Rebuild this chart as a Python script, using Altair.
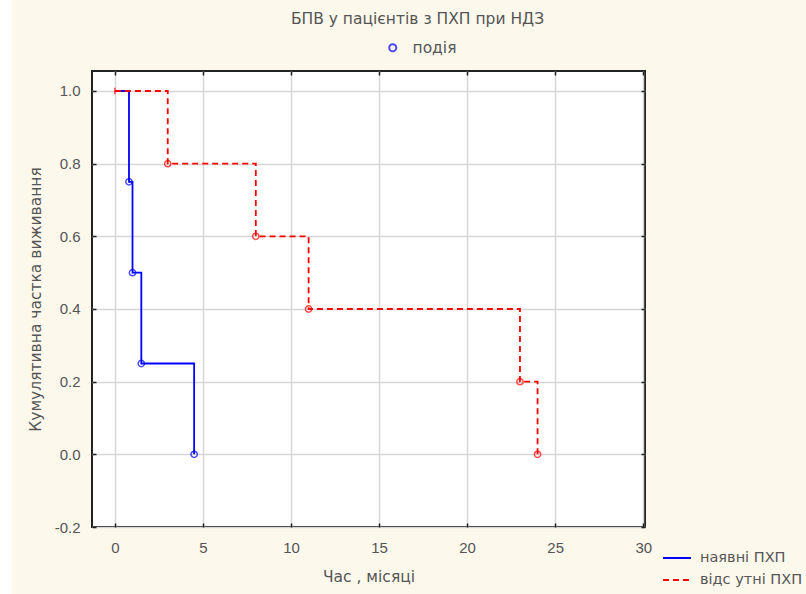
import altair as alt
import pandas as pd

# ---- data ----
series_names = ["наявні ПХП", "відс утні ПХП"]
blue_time = [0.0, 0.8, 1.0, 1.5, 4.5]
blue_surv = [1.0, 0.75, 0.5, 0.25, 0.0]
red_time = [0.0, 3.0, 8.0, 11.0, 23.0, 24.0]
red_surv = [1.0, 0.8, 0.6, 0.4, 0.2, 0.0]
x_ticks = [0, 5, 10, 15, 20, 25, 30]
y_ticks = [-0.2, 0.0, 0.2, 0.4, 0.6, 0.8, 1.0]
event_label = "подія"
title_text = "БПВ у пацієнтів з ПХП при НДЗ"
x_title = "Час , місяці"
y_title = "Кумулятивна частка виживання"

# ---- build tables ----
rows = []
for i, (t, s) in enumerate(zip(blue_time, blue_surv)):
    rows.append({"t": t, "s": s, "grp": series_names[0], "i": i})
for i, (t, s) in enumerate(zip(red_time, red_surv)):
    rows.append({"t": t, "s": s, "grp": series_names[1], "i": i})
df = pd.DataFrame(rows)
events = df[df["i"] > 0].copy()
events["ev"] = event_label
starts = df[(df["i"] == 0) & (df["grp"] == series_names[1])]

FONT = "Liberation Sans"
TFONT = "DejaVu Sans"
TSIZE = 15.5
TXT = "#555555"
GRID = "#d6d6d6"
BORDER = "#222222"

xscale = alt.Scale(domain=[-1.3, 30.1], nice=False, zero=False)
yscale = alt.Scale(domain=[-0.2, 1.055], nice=False, zero=False)

color_scale = alt.Scale(domain=series_names, range=["#0000ff", "#ff0000"])
dash_scale = alt.Scale(domain=series_names, range=[[1, 0], [6, 4]])

leg = dict(
    orient="none", legendX=577, legendY=479, title=None, padding=0,
    symbolType="M-2,0H2", symbolSize=196, symbolStrokeWidth=2,
    labelFont=TFONT, labelFontSize=14.5, labelColor=TXT, labelOffset=15,
    rowPadding=7,
)

x_bottom = alt.Axis(
    orient="bottom", values=x_ticks, offset=-4, tickSize=4, tickWidth=1.5,
    tickColor=BORDER, domain=False, grid=True, gridColor=GRID, gridWidth=1.5,
    labelFont=FONT, labelFontSize=15, labelColor=TXT, labelPadding=13,
    title=x_title, titleFont=TFONT, titleFontSize=TSIZE, titleFontWeight="normal",
    titleColor=TXT, titlePadding=14,
)
y_left = alt.Axis(
    orient="left", values=y_ticks, offset=-4, tickSize=4,
    labelExpr="(datum.value < 0 ? '-' : '') + format(abs(datum.value), '.1f')",
    tickWidth=1.5, tickColor=BORDER, domain=False, grid=True, gridColor=GRID,
    gridWidth=1.5, labelFont=FONT, labelFontSize=15, labelColor=TXT,
    labelPadding=12, title=y_title, titleFont=TFONT, titleFontSize=TSIZE,
    titleFontWeight="normal", titleColor=TXT, titlePadding=11,
)
x_top = alt.Axis(
    orient="top", values=x_ticks, offset=-4, tickSize=4, tickWidth=1.5,
    tickColor=BORDER, domain=False, grid=False, labels=False, title=None,
)
y_right = alt.Axis(
    orient="right", values=y_ticks, offset=-4, tickSize=4, tickWidth=1.5,
    tickColor=BORDER, domain=False, grid=False, labels=False, title=None,
)

strip = alt.Chart(df).mark_rect(color="white").encode(
    x=alt.value(-92), x2=alt.value(-80), y=alt.value(-71), y2=alt.value(523)
)

lines = alt.Chart(df).mark_line(interpolate="step-after", strokeWidth=1.8).encode(
    x=alt.X("t:Q", scale=xscale, axis=x_bottom),
    y=alt.Y("s:Q", scale=yscale, axis=y_left),
    color=alt.Color("grp:N", scale=color_scale, sort=series_names, legend=alt.Legend(**leg)),
    strokeDash=alt.StrokeDash("grp:N", scale=dash_scale, sort=series_names, legend=alt.Legend(**leg)),
    order="i:Q",
)

points = alt.Chart(events).mark_point(filled=False, size=40, strokeWidth=1.5).encode(
    x=alt.X("t:Q", scale=xscale, axis=x_top),
    y=alt.Y("s:Q", scale=yscale, axis=y_right),
    stroke=alt.Stroke("grp:N", scale=color_scale, legend=None),
    shape=alt.Shape(
        "ev:N",
        scale=alt.Scale(domain=[event_label], range=["circle"]),
        legend=alt.Legend(
            orient="none", legendX=293, legendY=-31, title=None, padding=0,
            symbolSize=50, symbolStrokeWidth=2, symbolStrokeColor="#0000ff",
            symbolFillColor="transparent", labelFont=TFONT, labelFontSize=TSIZE,
            labelColor=TXT, labelOffset=12,
        ),
    ),
)

start_mark = alt.Chart(starts).mark_point(
    shape="stroke", angle=90, size=40, strokeWidth=1.5, color="#ff0000"
).encode(
    x=alt.X("t:Q", scale=xscale, axis=None),
    y=alt.Y("s:Q", scale=yscale, axis=None),
)

chart = (
    alt.layer(strip, lines, points, start_mark)
    .resolve_axis(x="independent", y="independent")
    .properties(
        width=553,
        height=456,
        background="#fdf8ec",
        padding={"left": 92, "top": 71, "right": 161, "bottom": 67},
        autosize=alt.AutoSizeParams(type="none"),
        title=alt.TitleParams(
            title_text, font=TFONT, fontSize=TSIZE, fontWeight="normal",
            color=TXT, anchor="middle", frame="group", dx=49, offset=-27,
        ),
    )
    .configure_view(fill="white", stroke=BORDER, strokeWidth=2)
)

chart.save("out.html", embed_options={"renderer": "svg", "actions": False})
